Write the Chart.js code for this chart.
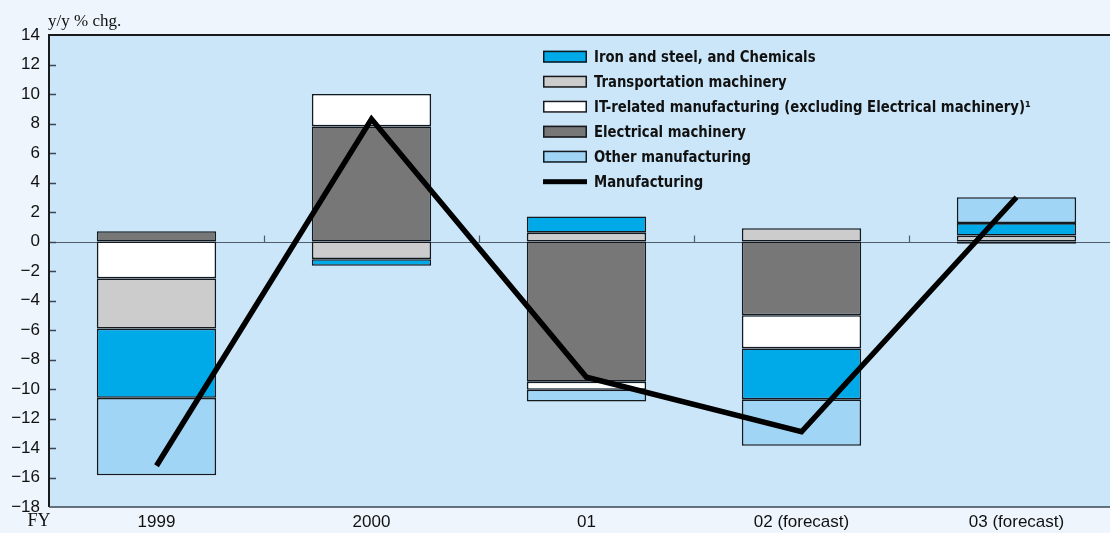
<!DOCTYPE html>
<html>
<head>
<meta charset="utf-8">
<title>Manufacturing production by industry</title>
<script src="https://cdn.jsdelivr.net/npm/chart.js@4.4.0/dist/chart.umd.min.js"></script>
<style>
  html, body { margin: 0; padding: 0; background: #eef5fc; overflow: hidden; }
  #wrap { position: relative; width: 1130px; height: 533px; }
</style>
</head>
<body>
<div id="wrap"><canvas id="chartManufacturing"></canvas></div>
<script>
// fiscal years on the x axis
const fiscalYears = ["1999", "2000", "01", "02 (forecast)", "03 (forecast)"];

// contributions by industry, % points
const ironSteelChem = [-4.7, -0.45, 1.1, -3.45, 0.85];
const transportMach = [-3.4, -1.2, 0.6, 0.9, 0.4];
const itRelated = [-2.5, 2.2, -0.55, -2.25, 0];
const electricalMach = [0.7, 7.8, -9.5, -5.0, -0.15];
const otherMfg = [-5.25, 0, -0.8, -3.15, 1.75];

// manufacturing total, y/y % chg.
const manufacturing = [-15.2, 8.3, -9.2, -12.9, 3.0];

const yMin = -18;
const yMax = 14;
const yStep = 2;

const sansFont = '"Liberation Sans", Arial, sans-serif';
const narrowBold = 'bold 16px "DejaVu Sans Condensed", "DejaVu Sans", sans-serif';
const serifFont = '"Liberation Serif", "Times New Roman", serif';
const edgeColor = "#15191e";

function minusSign(v) {
  return v < 0 ? "\u2212" + Math.abs(v) : String(v);
}

// panel fill, zero line, frame, inner ticks, captions and legend
const panelDecor = {
  id: "panelDecor",
  beforeDraw(chart) {
    const { ctx, chartArea: a } = chart;
    ctx.save();
    ctx.fillStyle = "#cae6f8";
    ctx.fillRect(a.left, a.top, a.right - a.left, a.bottom - a.top);
    ctx.restore();
  },
  beforeDatasetsDraw(chart) {
    const { ctx, chartArea: a, scales } = chart;
    const y0 = Math.round(scales.y.getPixelForValue(0)) + 0.5;
    ctx.save();
    ctx.strokeStyle = "#4f5d6b";
    ctx.lineWidth = 1.2;
    ctx.beginPath();
    ctx.moveTo(a.left, y0);
    ctx.lineTo(a.right, y0);
    // small marks between fiscal years
    for (let i = 0; i < fiscalYears.length - 1; i++) {
      const x = Math.round((scales.x.getPixelForValue(i) + scales.x.getPixelForValue(i + 1)) / 2) + 0.5;
      ctx.moveTo(x, y0);
      ctx.lineTo(x, y0 - 7);
    }
    ctx.stroke();
    ctx.restore();
  },
  afterDraw(chart) {
    const { ctx, chartArea: a, scales } = chart;
    ctx.save();

    // inner y ticks
    ctx.strokeStyle = "#3c4650";
    ctx.lineWidth = 1.5;
    ctx.beginPath();
    for (let v = yMin + yStep; v < yMax; v += yStep) {
      const y = Math.round(scales.y.getPixelForValue(v)) + 0.5;
      ctx.moveTo(a.left, y);
      ctx.lineTo(a.left + 7, y);
    }
    ctx.stroke();

    // frame
    ctx.strokeStyle = "#1a1a1a";
    ctx.lineWidth = 2;
    ctx.beginPath();
    ctx.moveTo(a.right, a.top);
    ctx.lineTo(a.left, a.top);
    ctx.lineTo(a.left, a.bottom);
    ctx.stroke();
    ctx.strokeStyle = "#3a4652";
    ctx.lineWidth = 1.5;
    ctx.beginPath();
    ctx.moveTo(a.left, a.bottom);
    ctx.lineTo(a.right, a.bottom);
    ctx.stroke();

    // captions
    ctx.fillStyle = "#111";
    ctx.font = "17px " + serifFont;
    ctx.textAlign = "left";
    ctx.textBaseline = "alphabetic";
    ctx.fillText("y/y % chg.", 48, 26);
    ctx.font = "18px " + serifFont;
    ctx.textAlign = "center";
    ctx.textBaseline = "middle";
    ctx.fillText("FY", 39, 521);

    // legend
    const lx = 543, ly = 56.7, rowH = 25, boxW = 44, boxH = 12, squeeze = 0.92;
    ctx.textAlign = "left";
    ctx.textBaseline = "middle";
    ctx.font = narrowBold;
    chart.data.datasets.forEach((ds, i) => {
      const cy = ly + i * rowH;
      if (ds.type === "line") {
        ctx.fillStyle = "#000";
        ctx.fillRect(lx, cy - 2.5, boxW, 5);
      } else {
        ctx.fillStyle = ds.backgroundColor;
        ctx.fillRect(lx, cy - boxH / 2, boxW, boxH);
        ctx.strokeStyle = edgeColor;
        ctx.lineWidth = 1.5;
        ctx.strokeRect(lx + 0.75, cy - boxH / 2 + 0.75, boxW - 1.5, boxH - 1.5);
      }
      ctx.fillStyle = "#111";
      ctx.save();
      ctx.translate(lx + 51, cy + 1);
      ctx.scale(squeeze, 1);
      ctx.fillText(ds.label, 0, 0);
      ctx.restore();
    });
    ctx.restore();
  },
};

function barSet(label, data, color, order) {
  return {
    type: "bar",
    label: label,
    data: data,
    backgroundColor: color,
    borderColor: edgeColor,
    borderWidth: 1.6,
    borderSkipped: false,
    stack: "industries",
    order: order,
  };
}

const idChart = document.getElementById("chartManufacturing");

const chartManufacturing = new Chart(idChart, {
  data: {
    labels: fiscalYears,
    datasets: [
      barSet("Iron and steel, and Chemicals", ironSteelChem, "#00a9e8", 4),
      barSet("Transportation machinery", transportMach, "#cccccc", 3),
      barSet("IT-related manufacturing (excluding Electrical machinery)\u00b9", itRelated, "#ffffff", 2),
      barSet("Electrical machinery", electricalMach, "#777777", 1),
      barSet("Other manufacturing", otherMfg, "#a0d5f5", 5),
      {
        type: "line",
        label: "Manufacturing",
        data: manufacturing,
        borderColor: "#000000",
        backgroundColor: "#000000",
        borderWidth: 5.5,
        pointRadius: 0,
        tension: 0,
        borderCapStyle: "butt",
        borderJoinStyle: "miter",
        stack: "total",
        order: 0,
      },
    ],
  },
  options: {
    responsive: true,
    maintainAspectRatio: false,
    animation: false,
    layout: { padding: { top: 35, right: 6, left: 0, bottom: 0 } },
    plugins: {
      legend: { display: false },
      tooltip: { enabled: false },
    },
    datasets: {
      bar: { categoryPercentage: 1, barPercentage: 0.555 },
    },
    scales: {
      x: {
        stacked: true,
        grid: { display: false, drawTicks: false },
        border: { display: false },
        ticks: {
          color: "#111",
          font: { family: sansFont, size: 17 },
          padding: 5,
          maxRotation: 0,
          autoSkip: false,
        },
        afterFit(scale) { scale.height = 26; },
      },
      y: {
        stacked: true,
        min: yMin,
        max: yMax,
        grid: { display: false, drawTicks: false },
        border: { display: false },
        ticks: {
          stepSize: yStep,
          color: "#111",
          font: { family: sansFont, size: 17 },
          padding: 9,
          callback: (v) => minusSign(v),
        },
        afterFit(scale) { scale.width = 49; },
      },
    },
  },
  plugins: [panelDecor],
});
</script>
</body>
</html>
